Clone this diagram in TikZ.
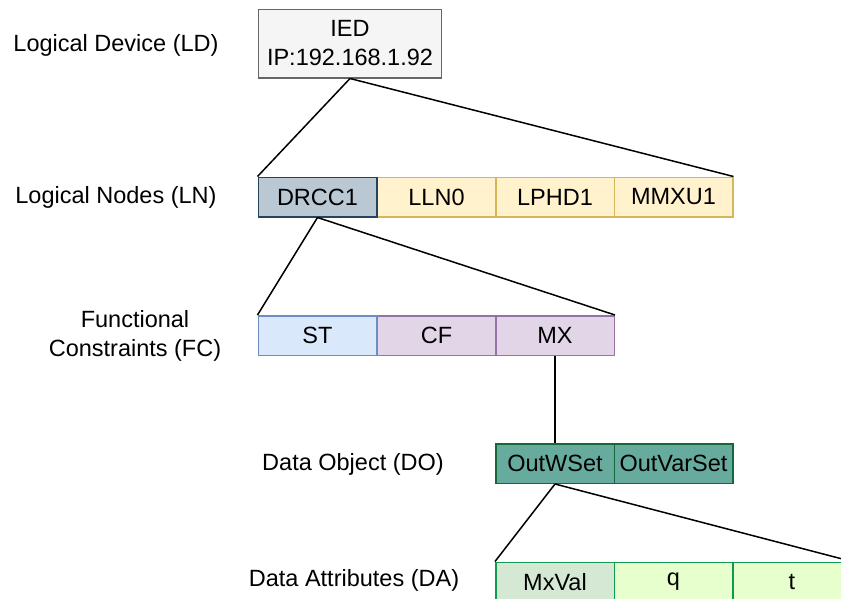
\documentclass[tikz,border=0pt]{standalone}
\usepackage{fontspec}
\setmainfont{Liberation Sans}
\definecolor{iedfill}{HTML}{F5F5F5}
\definecolor{iedline}{HTML}{666666}
\definecolor{lnafill}{HTML}{BAC8D3}
\definecolor{lnaline}{HTML}{23445D}
\definecolor{lnfill}{HTML}{FFF2CC}
\definecolor{lnline}{HTML}{D6B656}
\definecolor{stfill}{HTML}{DAE8FC}
\definecolor{stline}{HTML}{6C8EBF}
\definecolor{fcfill}{HTML}{E1D5E7}
\definecolor{fcline}{HTML}{9673A6}
\definecolor{dofill}{HTML}{67AB9F}
\definecolor{doline}{HTML}{13693A}
\definecolor{mvfill}{HTML}{D5E8D4}
\definecolor{dafill}{HTML}{E6FFCC}
\definecolor{daline}{HTML}{0E9A4F}
\tikzset{
  cell/.style={draw, line width=1.5pt, minimum width=118.5pt, minimum height=39.5pt,
    inner sep=0pt, font=\fontsize{23.5}{28}\selectfont},
  lbl/.style={align=center, inner sep=0pt, font=\fontsize{23.5}{29}\selectfont},
  link/.style={line width=1.5pt, black}
}
\begin{document}
\begin{tikzpicture}[x=1pt,y=-1pt]
\useasboundingbox (0,0) rectangle (841,598);
\clip (0,0) rectangle (841,598);
% level labels
\node[lbl] (lld) at (116,45) {Logical Device (LD)};
\node[lbl] (lln) at (116,197) {Logical Nodes (LN)};
\node[lbl] (lfc) at (135,336) {Functional\\Constraints (FC)};
\node[lbl] (ldo) at (353,464) {Data Object (DO)};
\node[lbl] (lda) at (354,580) {Data Attributes (DA)};
% logical device
\node[cell, fill=iedfill, draw=iedline, minimum width=183pt, minimum height=68.5pt,
  align=center, font=\fontsize{23.5}{29}\selectfont] (ied) at (350,43.5) {IED\\IP:192.168.1.92};
% logical nodes
\node[cell, fill=lnafill, draw=lnaline] (drcc) at (317.5,197) {DRCC1};
\node[cell, fill=lnfill, draw=lnline] (lln0) at (436.5,197) {LLN0};
\node[cell, fill=lnfill, draw=lnline] (lphd) at (555,197) {LPHD1};
\node[cell, fill=lnfill, draw=lnline] (mmxu) at (673.5,197) {MMXU1};
\draw[lnaline, line width=1.5pt] (drcc.north east) -- (drcc.south east);
% functional constraints
\node[cell, fill=stfill, draw=stline] (st) at (317.5,335.5) {ST};
\node[cell, fill=fcfill, draw=fcline] (cf) at (436.5,335.5) {CF};
\node[cell, fill=fcfill, draw=fcline] (mx) at (555,335.5) {MX};
\draw[stline, line width=1.5pt] (st.north east) -- (st.south east);
% data objects
\node[cell, fill=dofill, draw=doline] (outw) at (555,463.5) {OutWSet};
\node[cell, fill=dofill, draw=doline] (outv) at (673.5,463.5) {OutVarSet};
% data attributes
\node[cell, fill=mvfill, draw=daline] (mxval) at (555,582) {MxVal};
\node[cell, fill=dafill, draw=daline] (q) at (673.5,582) {q};
\node[cell, fill=dafill, draw=daline] (t) at (792,582) {t};
% hierarchy links
\draw[link] (ied.south) -- (drcc.north west);
\draw[link] (ied.south) -- (mmxu.north east);
\draw[link] (drcc.south) -- (st.north west);
\draw[link] (drcc.south) -- (mx.north east);
\draw[link] (mx.south) -- (outw.north);
\draw[link] (outw.south) -- (mxval.north west);
\draw[link] (outw.south) -- (t.north east);
\end{tikzpicture}
\end{document}
